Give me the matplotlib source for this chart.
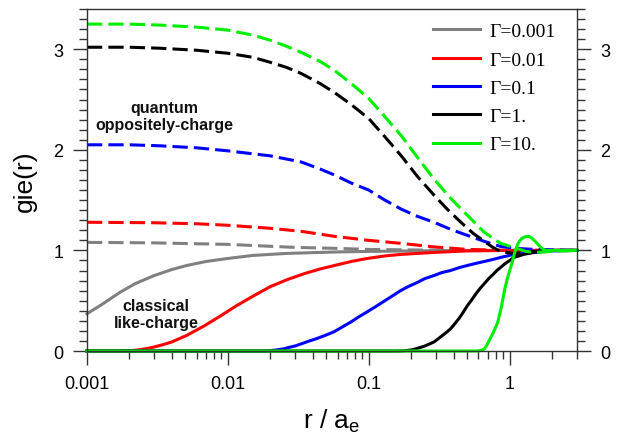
import matplotlib
matplotlib.use("Agg")
import matplotlib.pyplot as plt
from matplotlib.ticker import MultipleLocator, LogLocator, FixedLocator, NullFormatter, FixedFormatter

labels = ["Γ=0.001", "Γ=0.01", "Γ=0.1", "Γ=1.", "Γ=10."]
colors = ["#808080", "#ff0000", "#0000ff", "#000000", "#00ee00"]

# classical like-charge (solid)
x_s_g001 = [0.001, 0.0013, 0.0017, 0.0022, 0.003, 0.004, 0.0051, 0.007, 0.01, 0.015, 0.026, 0.06, 0.1, 0.2, 0.5, 1, 3]
y_s_g001 = [0.37, 0.47, 0.58, 0.67, 0.75, 0.81, 0.85, 0.89, 0.92, 0.95, 0.97, 0.985, 0.99, 0.995, 1.0, 1.0, 1.0]
x_s_g01 = [0.001, 0.0017, 0.002, 0.0023, 0.0026, 0.003, 0.0035, 0.004, 0.0051, 0.0068, 0.0089, 0.0115, 0.0153, 0.02, 0.0264, 0.035, 0.045, 0.057, 0.075, 0.0975, 0.13, 0.168, 0.29, 0.5, 1, 3]
y_s_g01 = [0, 0.0, 0.003, 0.01, 0.022, 0.04, 0.065, 0.09, 0.155, 0.25, 0.35, 0.45, 0.55, 0.64, 0.71, 0.77, 0.815, 0.85, 0.89, 0.92, 0.945, 0.96, 0.98, 0.995, 1.0, 1.0]
x_s_g1 = [0.001, 0.018, 0.02, 0.022, 0.025, 0.027, 0.03, 0.033, 0.037, 0.042, 0.049, 0.0565, 0.065, 0.075, 0.085, 0.0975, 0.113, 0.13, 0.148, 0.168, 0.19, 0.22, 0.25, 0.29, 0.33, 0.38, 0.44, 0.5, 0.57, 0.66, 0.76, 0.86, 1.07, 1.5, 2, 3]
y_s_g1 = [0, 0, 0.004, 0.01, 0.022, 0.035, 0.05, 0.07, 0.095, 0.12, 0.155, 0.19, 0.24, 0.29, 0.34, 0.39, 0.445, 0.50, 0.55, 0.60, 0.64, 0.68, 0.72, 0.75, 0.78, 0.80, 0.83, 0.85, 0.87, 0.89, 0.91, 0.93, 0.96, 0.98, 0.995, 1.0]
x_s_g10 = [0.001, 0.16, 0.18, 0.2, 0.22, 0.25, 0.27, 0.29, 0.31, 0.33, 0.355, 0.38, 0.41, 0.44, 0.47, 0.5, 0.535, 0.57, 0.61, 0.66, 0.71, 0.76, 0.81, 0.86, 0.93, 1.0, 1.07, 1.16, 1.25, 1.36, 1.48, 1.7, 2, 3]
y_s_g10 = [0, 0, 0.003, 0.01, 0.025, 0.05, 0.07, 0.09, 0.12, 0.15, 0.185, 0.22, 0.275, 0.33, 0.39, 0.45, 0.505, 0.56, 0.615, 0.67, 0.72, 0.76, 0.80, 0.83, 0.87, 0.9, 0.93, 0.945, 0.96, 0.97, 0.98, 0.99, 1.0, 1.0]
x_s_g100 = [0.001, 0.58, 0.62, 0.66, 0.68, 0.70, 0.725, 0.75, 0.785, 0.82, 0.845, 0.87, 0.895, 0.92, 0.95, 0.98, 1.01, 1.04, 1.08, 1.13, 1.17, 1.22, 1.28, 1.34, 1.39, 1.44, 1.49, 1.54, 1.6, 1.66, 1.73, 1.81, 2.2, 3]
y_s_g100 = [0, 0, 0.005, 0.02, 0.045, 0.08, 0.12, 0.16, 0.22, 0.28, 0.355, 0.43, 0.52, 0.61, 0.69, 0.76, 0.82, 0.88, 0.97, 1.05, 1.09, 1.12, 1.135, 1.14, 1.135, 1.12, 1.10, 1.08, 1.055, 1.03, 1.01, 1.0, 1.0, 1.0]

# quantum oppositely-charge (dashed)
x_q_g001 = [0.001, 0.003, 0.01, 0.03, 0.06, 0.1, 0.2, 0.5, 1, 3]
y_q_g001 = [1.08, 1.075, 1.06, 1.03, 1.02, 1.01, 1.005, 1.0, 1.0, 1.0]
x_q_g01 = [0.001, 0.003, 0.006, 0.01, 0.02, 0.033, 0.057, 0.1, 0.17, 0.29, 0.5, 1, 3]
y_q_g01 = [1.28, 1.275, 1.265, 1.25, 1.22, 1.19, 1.14, 1.10, 1.07, 1.035, 1.01, 1.0, 1.0]
x_q_g1 = [0.001, 0.002, 0.0033, 0.006, 0.01, 0.02, 0.033, 0.045, 0.057, 0.075, 0.1, 0.13, 0.17, 0.22, 0.29, 0.38, 0.5, 0.66, 0.86, 1.1, 1.5, 3]
y_q_g1 = [2.05, 2.05, 2.04, 2.02, 1.99, 1.94, 1.88, 1.81, 1.75, 1.67, 1.60, 1.50, 1.41, 1.34, 1.28, 1.21, 1.15, 1.09, 1.04, 1.02, 1.01, 1.0]
x_q_g10 = [0.001, 0.002, 0.0033, 0.006, 0.01, 0.015, 0.02, 0.026, 0.033, 0.045, 0.057, 0.075, 0.1, 0.13, 0.17, 0.22, 0.29, 0.36, 0.45, 0.55, 0.66, 0.76, 0.86, 1.0, 1.1, 1.3, 1.5, 2, 3]
y_q_g10 = [3.02, 3.02, 3.01, 2.99, 2.96, 2.92, 2.87, 2.82, 2.76, 2.66, 2.57, 2.45, 2.31, 2.13, 1.94, 1.74, 1.55, 1.41, 1.28, 1.17, 1.09, 1.03, 0.99, 0.975, 0.97, 0.98, 0.99, 1.0, 1.0]
x_q_g100 = [0.001, 0.002, 0.0033, 0.006, 0.01, 0.015, 0.02, 0.026, 0.033, 0.045, 0.057, 0.075, 0.1, 0.13, 0.17, 0.22, 0.29, 0.38, 0.5, 0.66, 0.86, 1.13, 1.3, 1.5, 2, 3]
y_q_g100 = [3.25, 3.25, 3.24, 3.22, 3.19, 3.14, 3.09, 3.03, 2.97, 2.88, 2.79, 2.66, 2.51, 2.33, 2.14, 1.93, 1.71, 1.52, 1.35, 1.18, 1.07, 1.02, 0.99, 0.98, 0.99, 1.0]

solid = [(x_s_g001, y_s_g001), (x_s_g01, y_s_g01), (x_s_g1, y_s_g1), (x_s_g10, y_s_g10), (x_s_g100, y_s_g100)]
dashed = [(x_q_g001, y_q_g001), (x_q_g01, y_q_g01), (x_q_g1, y_q_g1), (x_q_g10, y_q_g10), (x_q_g100, y_q_g100)]

xticks = [0.001, 0.01, 0.1, 1]
xticklabels = ["0.001", "0.01", "0.1", "1"]
yticks = [0, 1, 2, 3]

plt.rcParams['font.family'] = ['Liberation Sans', 'DejaVu Sans']

fig = plt.figure(figsize=(6.23, 4.35), dpi=100)
ax = fig.add_axes([0.1396, 0.1908, 0.7865, 0.7862])

lw = 2.2
handles = []
for (xs, ys), (xq, yq), c, lab in zip(solid, dashed, colors, labels):
    ax.plot(xq, yq, color=c, lw=lw, dashes=(5, 2), clip_on=False)
    h, = ax.plot(xs, ys, color=c, lw=lw, clip_on=False, label=lab)
    handles.append(h)

ax.set_xscale('log')
ax.set_xlim(0.001, 3)
ax.set_ylim(0, 3.4)

ax.xaxis.set_major_locator(FixedLocator(xticks))
ax.xaxis.set_major_formatter(FixedFormatter(xticklabels))
ax.xaxis.set_minor_locator(LogLocator(base=10, subs=range(2, 10), numticks=20))
ax.xaxis.set_minor_formatter(NullFormatter())
ax.yaxis.set_major_locator(FixedLocator(yticks))
ax.yaxis.set_minor_locator(MultipleLocator(0.1))

for s in ax.spines.values():
    s.set_linewidth(1.0)
    s.set_color('#333333')

ax.tick_params(axis='both', which='major', direction='out', length=10, width=1.0,
               labelsize=13, color='#333333', pad=7)
ax.tick_params(axis='both', which='minor', direction='out', length=5.5, width=1.0, color='#333333')
ax.tick_params(axis='x', which='both', top=False)
ax.tick_params(axis='y', which='both', left=True, right=True, labelleft=True, labelright=True)

ax.set_xlabel(r'r / a$_\mathregular{e}$', fontsize=19, labelpad=11)
ax.set_ylabel('gie(r)', fontsize=19, labelpad=12)

ax.text(0.00353, 2.34, "quantum\noppositely-charge", fontsize=11.5, fontweight='bold',
        ha='center', va='center', linespacing=1.15, color='#111111')
ax.text(0.0031, 0.37, "classical\nlike-charge", fontsize=11.5, fontweight='bold',
        ha='center', va='center', linespacing=1.15, color='#111111')

leg = ax.legend(handles=handles, loc='upper right', frameon=False,
                prop={'family': 'Liberation Serif', 'size': 14},
                handlelength=2.4, handletextpad=0.5, labelspacing=0.55,
                borderaxespad=0.3, bbox_to_anchor=(0.985, 1.0))

fig.savefig('out.png', dpi=100)
